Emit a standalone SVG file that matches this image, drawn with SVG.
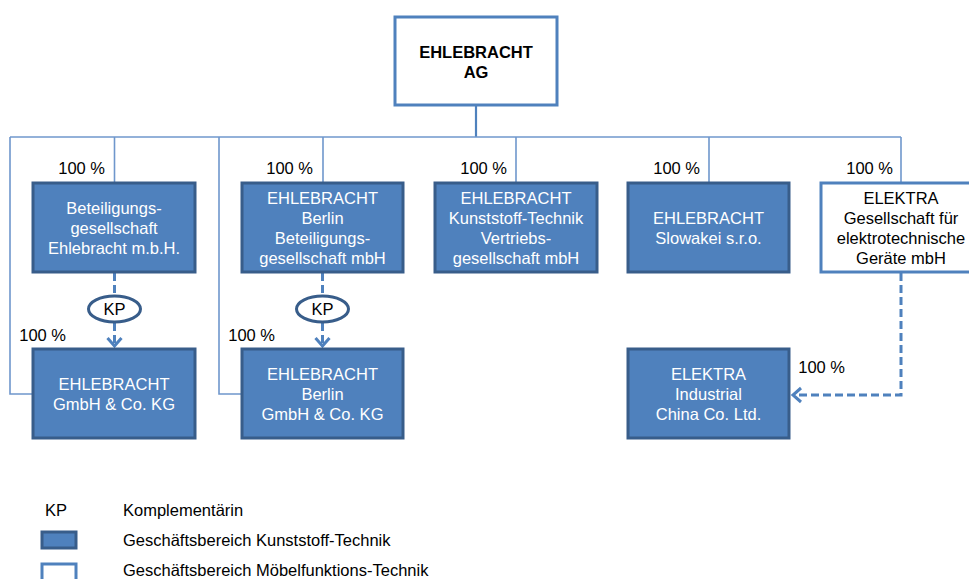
<svg xmlns="http://www.w3.org/2000/svg" width="969" height="579" viewBox="0 0 969 579">
<defs>
<style>
text{font-family:"Liberation Sans",Arial,sans-serif;font-size:16.5px}
.blue{fill:#4f81bd;stroke:#385d8a;stroke-width:3}
.white{fill:#fff;stroke:#4f81bd;stroke-width:3}
.wt{fill:#fff;text-anchor:middle}
.bt{fill:#000;text-anchor:middle}
.pct{fill:#000;text-anchor:end}
.bus{fill:none;stroke:#6f97cc;stroke-width:1.6}
.dash{fill:none;stroke:#4f81bd;stroke-width:3;stroke-dasharray:8,4}
.kp{fill:#fff;stroke:#385d8a;stroke-width:3}
</style>
<marker id="arr" markerUnits="userSpaceOnUse" markerWidth="20" markerHeight="20" refX="10" refY="10" orient="auto">
<path d="M2,3 L10,10 L2,17" fill="none" stroke="#4f81bd" stroke-width="3"/>
</marker>
</defs>

<g id="connectors">
<line class="bus" x1="476" y1="105" x2="476" y2="137" style="stroke:#4f81bd;stroke-width:2.2"/>
<polyline class="bus" points="10,137 901,137"/>
<line class="bus" x1="114.5" y1="137" x2="114.5" y2="183"/>
<line class="bus" x1="323" y1="137" x2="323" y2="183"/>
<line class="bus" x1="516" y1="137" x2="516" y2="183"/>
<line class="bus" x1="709" y1="137" x2="709" y2="183"/>
<line class="bus" x1="901" y1="137" x2="901" y2="183"/>
<polyline class="bus" points="10,137 10,394 33,394"/>
<polyline class="bus" points="219,137 219,394 242,394"/>
<line class="dash" x1="114.5" y1="273" x2="114.5" y2="296"/>
<line class="dash" x1="114.5" y1="323" x2="114.5" y2="346" marker-end="url(#arr)"/>
<line class="dash" x1="322.5" y1="273" x2="322.5" y2="296"/>
<line class="dash" x1="322.5" y1="323" x2="322.5" y2="346" marker-end="url(#arr)"/>
<polyline class="dash" points="901,273 901,395 793,395" marker-end="url(#arr)"/>
<text class="pct" x="105" y="174">100 %</text>
<text class="pct" x="313" y="174">100 %</text>
<text class="pct" x="507" y="174">100 %</text>
<text class="pct" x="700" y="174">100 %</text>
<text class="pct" x="893" y="174">100 %</text>
<text class="pct" x="66" y="341">100 %</text>
<text class="pct" x="275" y="341">100 %</text>
<text class="pct" x="845" y="373">100 %</text>
</g>

<g id="ag">
<rect class="white" x="395" y="17" width="162" height="88"/>
<text class="bt" x="476" y="58" style="font-weight:bold">EHLEBRACHT</text>
<text class="bt" x="476" y="78" style="font-weight:bold">AG</text>
</g>

<g id="beteiligung">
<rect class="blue" x="33" y="183" width="162" height="89"/>
<text class="wt" x="114" y="214">Beteiligungs-</text>
<text class="wt" x="114" y="234">gesellschaft</text>
<text class="wt" x="114" y="254">Ehlebracht m.b.H.</text>
</g>

<g id="berlin-beteiligung">
<rect class="blue" x="242" y="183" width="161" height="89"/>
<text class="wt" x="322.5" y="204">EHLEBRACHT</text>
<text class="wt" x="322.5" y="224">Berlin</text>
<text class="wt" x="322.5" y="244">Beteiligungs-</text>
<text class="wt" x="322.5" y="264">gesellschaft mbH</text>
</g>

<g id="vertrieb">
<rect class="blue" x="435" y="183" width="162" height="89"/>
<text class="wt" x="516" y="204">EHLEBRACHT</text>
<text class="wt" x="516" y="224">Kunststoff-Technik</text>
<text class="wt" x="516" y="244">Vertriebs-</text>
<text class="wt" x="516" y="264">gesellschaft mbH</text>
</g>

<g id="slowakei">
<rect class="blue" x="628" y="183" width="161" height="89"/>
<text class="wt" x="708.5" y="224">EHLEBRACHT</text>
<text class="wt" x="708.5" y="244">Slowakei s.r.o.</text>
</g>

<g id="elektra">
<rect class="white" x="821" y="183" width="162" height="89"/>
<text class="bt" x="901" y="204">ELEKTRA</text>
<text class="bt" x="901" y="224">Gesellschaft für</text>
<text class="bt" x="901" y="244">elektrotechnische</text>
<text class="bt" x="901" y="264">Geräte mbH</text>
</g>

<g id="kp1">
<ellipse class="kp" cx="114.5" cy="309" rx="26" ry="13"/>
<text class="bt" x="114.5" y="315">KP</text>
</g>

<g id="kp2">
<ellipse class="kp" cx="322.5" cy="309" rx="26" ry="13"/>
<text class="bt" x="322.5" y="315">KP</text>
</g>

<g id="gmbh">
<rect class="blue" x="33" y="349" width="162" height="89"/>
<text class="wt" x="114" y="390">EHLEBRACHT</text>
<text class="wt" x="114" y="410">GmbH &amp; Co. KG</text>
</g>

<g id="berlin-gmbh">
<rect class="blue" x="242" y="349" width="161" height="89"/>
<text class="wt" x="322.5" y="380">EHLEBRACHT</text>
<text class="wt" x="322.5" y="400">Berlin</text>
<text class="wt" x="322.5" y="420">GmbH &amp; Co. KG</text>
</g>

<g id="china">
<rect class="blue" x="628" y="349" width="161" height="89"/>
<text class="wt" x="708.5" y="380">ELEKTRA</text>
<text class="wt" x="708.5" y="400">Industrial</text>
<text class="wt" x="708.5" y="420">China Co. Ltd.</text>
</g>

<g id="legend">
<text x="45" y="516">KP</text>
<text x="123" y="516">Komplementärin</text>
<rect class="blue" x="42" y="532" width="34" height="16"/>
<text x="123" y="546">Geschäftsbereich Kunststoff-Technik</text>
<rect class="white" x="42" y="564" width="34" height="18"/>
<text x="123" y="576">Geschäftsbereich Möbelfunktions-Technik</text>
</g>
</svg>
